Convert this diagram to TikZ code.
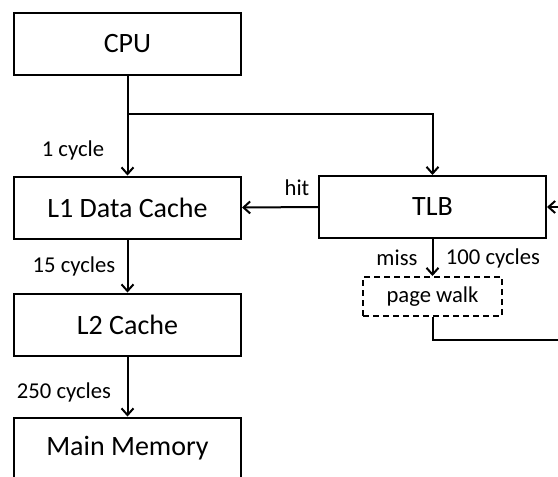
\documentclass[tikz,border=0pt]{standalone}
\usepackage{fontspec}
\setmainfont{Carlito}
\usetikzlibrary{arrows.meta}

\begin{document}
\begin{tikzpicture}[x=0.75pt, y=-0.75pt, line width=1.5pt,
        >={Straight Barb[length=5pt, width=9pt]},
        box/.style={draw, inner sep=0pt, minimum width=170.25pt, minimum height=46.5pt, font=\fontsize{21}{24}\selectfont},
        walkbox/.style={draw, dashed, dash pattern=on 4.5pt off 3pt, inner sep=0pt, minimum width=104.25pt, minimum height=29.25pt, font=\fontsize{17}{20}\selectfont},
        lbl/.style={font=\fontsize{17}{20}\selectfont}]
        \useasboundingbox (0, 0) rectangle (558, 476);

        % Draw the memory hierarchy
        \node[box] (cpu) at (127.5, 43.5) {CPU};
        \node[box] (l1) at (127.5, 207.5) {L1 Data Cache};
        \node[box] (l2) at (127.5, 324.5) {L2 Cache};
        \node[box] (mem) at (127.5, 448.5) {Main Memory};

        % Draw the translation side
        \node[box] (tlb) at (432.5, 207) {TLB};
        \node[walkbox] (walk) at (432.5, 296.5) {page walk};
        \coordinate (split) at (128, 114);
        \coordinate (back) at (570, 340);

        % Draw the arrows
        \draw[->] (cpu.south) -- (l1.north);
        \draw[->] (split) -| (tlb.north);
        \draw[->] (l1.south) -- (l2.north);
        \draw[->] (l2.south) -- (mem.north);
        \draw[->] (tlb.west) -- (l1.east);
        \draw[->] (tlb.south) -- (walk.north);
        \draw[->] (walk.south) |- (back) |- (tlb.east);

        % Draw the labels
        \node[lbl] (c1) at (73, 150) {1 cycle};
        \node[lbl] (c15) at (74, 266) {15 cycles};
        \node[lbl] (c250) at (64, 392) {250 cycles};
        \node[lbl] (hit) at (297, 188) {hit};
        \node[lbl] (miss) at (397, 258) {miss};
        \node[lbl] (c100) at (493, 258) {100 cycles};
\end{tikzpicture}
\end{document}
